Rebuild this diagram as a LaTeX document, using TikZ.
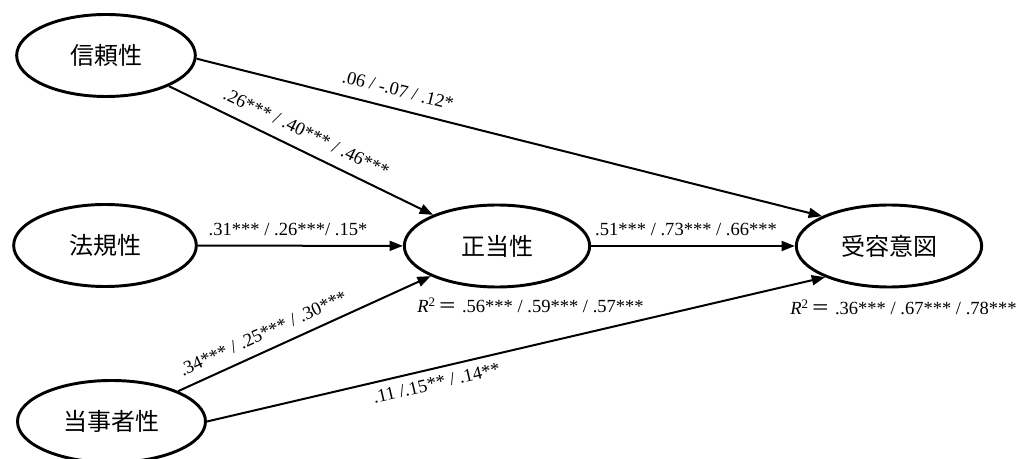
\documentclass[tikz,border=0pt]{standalone}
\usepackage{fontspec}
\setmainfont{Liberation Serif}
\newfontfamily\cjk{Noto Sans CJK JP}
\usetikzlibrary{shapes.geometric,arrows.meta}
\begin{document}
\begin{tikzpicture}[x=0.75pt,y=-0.75pt,
  latent/.style={ellipse,draw,line width=2.2pt,inner sep=0pt,minimum height=61.5pt,font=\cjk\fontsize{18}{21}\selectfont},
  pathline/.style={line width=1.5pt,-{Triangle[length=10pt,width=7.5pt]}},
  coef/.style={font=\fontsize{13.9}{16}\selectfont,inner sep=0pt},
]
\useasboundingbox (0,0) rectangle (1017,459);
\node[latent,minimum width=134pt] (n1) at (106,55.5) {信頼性};
\node[latent,minimum width=137pt] (n2) at (105,245.5) {法規性};
\node[latent,minimum width=141pt] (n3) at (111.5,421.5) {当事者性};
\node[latent,minimum width=139pt] (n4) at (497,246) {正当性};
\node[latent,minimum width=139pt] (n5) at (889,246) {受容意図};

\draw[pathline] (n1) -- node[coef,sloped,above=8.5pt,pos=0.49]{.26*** / .40*** / .46***} (n4);
\draw[pathline] (n1.-2) -- node[coef,sloped,above=8.5pt,pos=0.315]{.06 / -.07 / .12*} (n5.156);
\draw[pathline] (n2) -- node[coef,above=7pt,pos=0.44]{.31*** / .26***/ .15*} (n4);
\draw[pathline] (n4) -- node[coef,above=7pt,pos=0.466]{.51*** / .73*** / .66***} (n5);
\draw[pathline] (n3) -- node[coef,sloped,above=7.5pt,pos=0.365]{.34*** / .25*** / .30***} (n4);
\draw[pathline] (n3.east) -- node[coef,sloped,below=5.5pt,pos=0.366]{.11 /.15** / .14**} (n5.206);

\node[coef,anchor=base west] (r4) at (417,313) {\textit{R}\textsuperscript{2}\,{\cjk ＝} .56*** / .59*** / .57***};
\node[coef,anchor=base west] (r5) at (790,315) {\textit{R}\textsuperscript{2}\,{\cjk ＝} .36*** / .67*** / .78***};
\end{tikzpicture}
\end{document}
